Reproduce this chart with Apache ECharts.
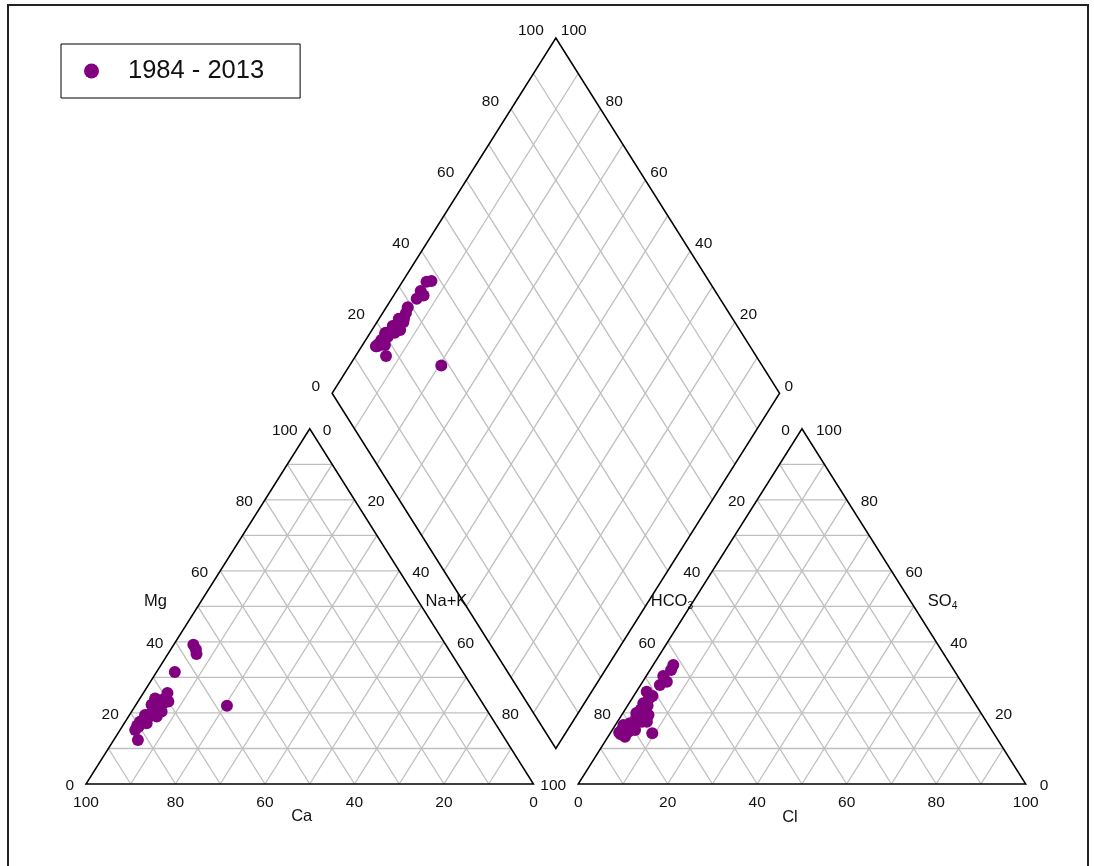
<!DOCTYPE html>
<html>
<head>
<meta charset="utf-8">
<title>Piper diagram</title>
<script src="https://cdn.jsdelivr.net/npm/echarts@6/dist/echarts.min.js"></script>
<style>
  html, body { margin: 0; padding: 0; background: #fff; }
  #chart { width: 1094px; height: 866px; }
</style>
</head>
<body>
<div id="chart"></div>
<script>
// Piper diagram of major-ion composition (percent of milliequivalents)

const seriesName = '1984 - 2013';
const tickValues = [0, 20, 40, 60, 80, 100];
const gridSteps = [10, 20, 30, 40, 50, 60, 70, 80, 90];

// Cations (%): Ca + Mg + Na+K = 100
const ca  = [57.0, 82.2, 69.0, 72.9, 56.5, 57.5, 71.4, 56.4, 72.9, 74.7, 70.3, 64.4, 74.6, 72.5, 76.4, 77.9, 78.2, 70.0, 80.2, 74.2, 77.1, 79.2, 81.4, 74.5, 74.0, 71.8, 77.0, 74.7, 78.2, 74.3, 80.3, 74.6, 71.7];
const mg  = [36.6, 12.4, 25.6, 20.4, 37.9, 22.0, 22.7, 39.2, 21.8, 19.0, 24.1, 31.5, 20.8, 24.1, 19.4, 17.1, 18.0, 23.2, 16.1, 22.3, 19.4, 17.5, 15.2, 20.0, 21.0, 23.0, 18.5, 20.5, 17.8, 21.5, 16.5, 19.8, 23.5];
const naK = [ 6.4,  5.4,  5.4,  6.7,  5.6, 20.5,  5.9,  4.4,  5.3,  6.3,  5.6,  4.1,  4.6,  3.4,  4.2,  5.0,  3.8,  6.8,  3.7,  3.5,  3.5,  3.3,  3.4,  5.5,  5.0,  5.2,  4.5,  4.8,  4.0,  4.2,  3.2,  5.6,  4.8];

// Anions (%): HCO3 + SO4 + Cl = 100
const hco3 = [62.0, 63.2, 65.8, 65.8, 67.8, 71.7, 74.1, 74.6, 75.6, 75.9, 76.3, 77.0, 77.7, 79.7, 79.9, 81.4, 81.6, 82.7, 82.9, 79.5, 81.5, 83.5, 82.8, 77.5, 75.5, 72.2, 79.6, 77.5, 79.9, 77.0, 83.6, 73.5, 71.0];
const so4  = [33.5, 32.1, 30.4, 28.8, 27.9, 26.0, 22.7, 19.4, 20.4, 17.5, 14.3, 17.5, 18.5, 15.2, 17.1, 14.7, 16.6, 15.2, 13.3, 16.0, 15.5, 14.0, 15.0, 19.0, 21.0, 24.0, 16.2, 18.0, 16.8, 20.0, 14.5, 22.0, 24.8];
const cl   = [ 4.5,  4.7,  3.8,  5.4,  4.3,  2.3,  3.2,  6.0,  4.0,  6.6,  9.4,  5.5,  3.8,  5.1,  3.0,  3.9,  1.8,  2.1,  3.8,  4.5,  3.0,  2.5,  2.2,  3.5,  3.5,  3.8,  4.2,  4.5,  3.3,  3.0,  1.9,  4.5,  4.2];

// ---- layout in diagram units: triangle side 100, gap 10 ----
const S60 = Math.sin(Math.PI / 3);
const H = 100 * S60;             // triangle height
const GAP = 10;
const X_MAX = 200 + GAP;
const Y_MAX = (200 + GAP) * S60; // top of diamond

// cation triangle: Ca bottom-left, Na+K bottom-right, Mg top
function cat(c, m, n) { return [n + m / 2, m * S60]; }
// anion triangle: HCO3 bottom-left, Cl bottom-right, SO4 top
function an(h, s, c) { return [100 + GAP + c + s / 2, s * S60]; }
// diamond, from its left corner: n = Na+K %, s = SO4+Cl %
function dia(n, s) {
  const lx = 50 + GAP / 2, ly = GAP * S60 + H;
  return [lx + 0.5 * n + 0.5 * s, ly + S60 * (s - n)];
}

// ---- grid segments and outlines ----
const gridSegs = [];
gridSteps.forEach(k => {
  gridSegs.push([cat(100 - k, k, 0), cat(0, k, 100 - k)]);
  gridSegs.push([cat(100 - k, 0, k), cat(0, 100 - k, k)]);
  gridSegs.push([cat(k, 0, 100 - k), cat(k, 100 - k, 0)]);
  gridSegs.push([an(100 - k, k, 0), an(0, k, 100 - k)]);
  gridSegs.push([an(100 - k, 0, k), an(0, 100 - k, k)]);
  gridSegs.push([an(k, 0, 100 - k), an(k, 100 - k, 0)]);
  gridSegs.push([dia(k, 0), dia(k, 100)]);
  gridSegs.push([dia(0, k), dia(100, k)]);
});

const outlines = [
  [cat(100, 0, 0), cat(0, 0, 100), cat(0, 100, 0)],
  [an(100, 0, 0), an(0, 0, 100), an(0, 100, 0)],
  [dia(0, 0), dia(100, 0), dia(100, 100), dia(0, 100)]
];

// ---- tick labels: [anchor, text, align, dx, dy] ----
const tickLabels = [];
tickValues.forEach(v => {
  tickLabels.push([cat(v, 0, 100 - v), String(v), 'center', 0, 19]);     // Ca
  tickLabels.push([cat(100 - v, v, 0), String(v), 'right', -12, 2]);     // Mg
  if (v < 100) tickLabels.push([cat(0, 100 - v, v), String(v), 'left', 13, 2]); // Na+K (100 shares the corner with HCO3)
  tickLabels.push([an(100 - v, 0, v), String(v), 'center', 0, 19]);      // Cl
  tickLabels.push([an(v, 100 - v, 0), String(v), 'right', -12, 2]);      // HCO3
  tickLabels.push([an(0, v, 100 - v), String(v), 'left', 14, 2]);        // SO4
  tickLabels.push([dia(0, v), String(v), 'right', -12, -7]);             // SO4+Cl
  tickLabels.push([dia(100 - v, 100), String(v), 'left', 5, -7]);        // Ca+Mg
});

// ---- axis titles: [anchor, rich text, align, dx, dy] ----
const titles = [
  [cat(50, 50, 0), 'Mg', 'right', -31, -5],
  [cat(50, 0, 50), 'Ca', 'center', -8, 32],
  [cat(0, 50, 50), 'Na+K', 'left', 4, -5],
  [an(50, 50, 0), 'HCO{sub|3}', 'right', 3, -5],
  [an(50, 0, 50), 'Cl', 'center', -12, 33],
  [an(0, 50, 50), 'SO{sub|4}', 'left', 14, -5]
];

// ---- sample points ----
const catPts = ca.map((c, i) => cat(c, mg[i], naK[i]));
const anPts = hco3.map((h, i) => an(h, so4[i], cl[i]));
const diaPts = naK.map((n, i) => dia(n, so4[i] + cl[i]));

const FONT = "'Liberation Sans', Arial, Helvetica, sans-serif";

const chart = echarts.init(document.getElementById('chart'), null, { renderer: 'canvas' });

function textItem(list, size) {
  return function (params, api) {
    const it = list[params.dataIndex];
    const p = api.coord(it[0]);
    return {
      type: 'text',
      x: p[0] + it[3],
      y: p[1] + it[4],
      style: {
        text: it[1],
        fill: '#111',
        fontSize: size,
        fontFamily: FONT,
        align: it[2],
        verticalAlign: 'middle',
        rich: {
          sub: { fontSize: size * 0.62, fontFamily: FONT, fill: '#111', verticalAlign: 'bottom', padding: [9, 0, 0, 0] }
        }
      }
    };
  };
}

const dotStyle = { color: '#800080', opacity: 1 };

const option = {
  animation: false,
  backgroundColor: '#fff',
  grid: { left: 86, right: 68.3, top: 38, bottom: 82, containLabel: false },
  xAxis: { type: 'value', min: 0, max: X_MAX, show: false },
  yAxis: { type: 'value', min: 0, max: Y_MAX, show: false },
  legend: {
    data: [{ name: seriesName, icon: 'circle' }],
    left: 61, top: 44,
    padding: [14, 36, 14, 23],
    borderColor: '#000', borderWidth: 1,
    itemWidth: 15, itemHeight: 15,
    selectedMode: false,
    textStyle: { fontSize: 25.5, fontFamily: FONT, color: '#111', padding: [0, 0, 0, 24] }
  },
  graphic: [{
    type: 'rect', z: -1,
    shape: { x: 8, y: 5, width: 1080, height: 900 },
    style: { fill: null, stroke: '#222', lineWidth: 2 }
  }],
  series: [
    {
      type: 'custom', silent: true, z: 1,
      data: gridSegs.map(s => [s[0][0], s[0][1], s[1][0], s[1][1]]),
      encode: { x: [0, 2], y: [1, 3] },
      renderItem: (params, api) => {
        const a = api.coord([api.value(0), api.value(1)]);
        const b = api.coord([api.value(2), api.value(3)]);
        return { type: 'line', shape: { x1: a[0], y1: a[1], x2: b[0], y2: b[1] },
                 style: { stroke: '#bfbfbf', lineWidth: 1.3 } };
      }
    },
    {
      type: 'custom', silent: true, z: 2,
      data: outlines.map((o, i) => [o[0][0], o[0][1], i]),
      renderItem: (params, api) => {
        const pts = outlines[params.dataIndex].map(p => api.coord(p));
        return { type: 'polygon', shape: { points: pts },
                 style: { fill: null, stroke: '#000', lineWidth: 1.5 } };
      }
    },
    {
      type: 'custom', silent: true, z: 3,
      data: tickLabels.map(t => [t[0][0], t[0][1]]),
      renderItem: textItem(tickLabels, 15.5)
    },
    {
      type: 'custom', silent: true, z: 3,
      data: titles.map(t => [t[0][0], t[0][1]]),
      renderItem: textItem(titles, 16.5)
    },
    { name: seriesName, type: 'scatter', z: 5, symbolSize: 12, itemStyle: dotStyle, data: catPts },
    { name: seriesName, type: 'scatter', z: 5, symbolSize: 12, itemStyle: dotStyle, data: anPts },
    { name: seriesName, type: 'scatter', z: 5, symbolSize: 12, itemStyle: dotStyle, data: diaPts }
  ]
};

chart.setOption(option);
</script>
</body>
</html>
